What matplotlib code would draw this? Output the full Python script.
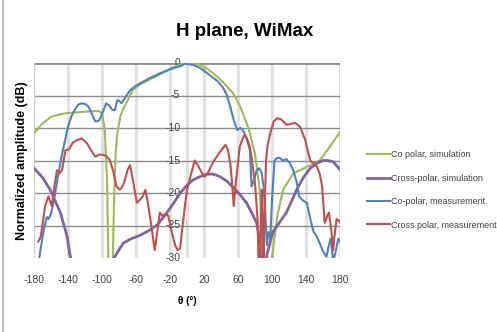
import matplotlib
matplotlib.use("Agg")
import matplotlib.pyplot as plt
from matplotlib.lines import Line2D

plt.rcParams["font.family"] = ["Liberation Sans Narrow", "Liberation Sans", "DejaVu Sans"]
plt.rcParams["axes.unicode_minus"] = False

# Co polar, simulation
co_sim_theta = [-180, -170, -160, -150, -140, -130, -120, -110, -104, -100, -97, -94, -92,
                -88, -86, -84, -82, -78, -74, -70, -64, -55, -45, -35, -20, -10, 0, 8,
                15, 25, 31, 42, 54, 62, 70, 74, 80, 86, 90, 96, 101, 106, 113, 125,
                141, 156, 168, 180]
co_sim = [-10.8, -9.3, -8.3, -7.9, -7.7, -7.6, -7.5, -7.4, -7.4, -7.7, -10, -18, -35,
          -35, -22, -14, -10.8, -8, -6.8, -5.8, -4.2, -3.3, -2.6, -2.0, -0.9, -0.3, 0, 0,
          -0.3, -1.0, -1.6, -2.9, -4.6, -6.5, -9.2, -10.8, -14, -20, -35, -35, -29, -23.7, -19.5, -17,
          -16, -15, -12.9, -10.6]

# Cross-polar, simulation
x_sim_theta = [-180, -170, -161, -149, -141, -138, -135, -100, -90, -85, -75, -65, -55, -45,
               -35, -25, -16, -8, 0, 7, 15, 23, 31, 39, 47, 54, 62, 70, 76, 82, 85, 87,
               93, 94, 101, 109, 117, 129, 137, 145, 152, 160, 166, 172, 180]
x_sim = [-16.2, -17.6, -19.5, -23, -26.7, -29.3, -31, -31, -31, -29.8, -27.7, -27, -26.5,
         -25.8, -24.9, -23.3, -21.6, -20, -18.8, -18, -17.5, -17.1, -17.1, -17.5, -18.2, -19.1, -20.2,
         -21.5, -23, -24.6, -27, -31, -31, -29.5, -26, -24.5, -23, -19.5, -17.6, -16.2, -15.5,
         -15, -15, -15.2, -16.4]

# Co-polar, measurement
co_meas_theta = [-180, -173, -169, -165, -163, -160, -158, -155, -152, -146, -140, -136,
                 -132, -128, -124, -120, -116, -112, -108, -104, -102, -98, -95, -91,
                 -88, -85, -82, -79, -77, -72, -67, -60, -52, -42, -32, -24, -16, -8,
                 -2, 7, 13, 19, 25, 31, 36, 42, 47, 51, 55, 59, 63, 66, 70, 74, 76,
                 79, 82, 85, 88, 90, 92, 94, 96, 98, 100, 103, 106, 109, 113, 117,
                 121, 125, 129, 132, 135, 138, 141, 145, 149, 152, 156, 160, 164,
                 167, 169, 172, 175, 178, 180]
co_meas = [-35, -29.3, -26, -23.7, -24, -23.2, -22, -20, -17.5, -13.4, -9.8, -8.2,
           -7.2, -6.4, -6.2, -6.3, -6.7, -7.8, -9, -8.9, -8.5, -7.2, -6.2, -6.6,
           -7.2, -7.3, -5.7, -5.9, -6.2, -5.2, -4.2, -3.5, -2.9, -2.2, -1.6, -1.2, -0.8, -0.5,
           -0.1, -0.3, -0.6, -1.1, -1.7, -2.3, -2.8, -3.7, -5, -6.8, -8.8, -10.3, -10.0, -10.4,
           -11.5, -13.4, -19, -18, -16.5, -16.2, -17, -19, -22.6, -28, -26, -27, -21, -15,
           -14.6, -14.6, -15, -14.8, -15.4, -16.5, -18.3, -20.5, -21, -21.3, -21.5, -24, -26,
           -26.5, -27.7, -29, -29.8, -28, -27, -30.5, -29, -27, -27.5]

# Cross polar, measurement
x_meas_theta = [-175, -172, -169, -167, -163, -159, -156, -153, -150, -147, -143, -139,
                -134, -128, -124, -118, -113, -108, -103, -99, -95, -91, -87, -83, -79,
                -76, -73, -70, -67, -63, -59, -55, -52, -49, -46, -42, -38, -35, -32,
                -29, -25, -22, -18, -14, -11, -8, -6, -2, 0, 3, 6, 9, 13, 17, 21, 25,
                29, 32, 35, 40, 45, 48, 51, 53, 55, 57, 59, 62, 65, 68, 71, 74, 77,
                80, 83, 85, 87, 88, 89, 90, 91, 93, 95, 98, 102, 106, 111, 117, 122,
                127, 133, 136, 139, 142, 145, 149, 153, 156, 159, 162, 165, 167, 170,
                172, 174, 176, 178, 180]
x_meas = [-27.5, -26.7, -24, -22, -20.5, -22, -19, -16.5, -17, -16.5, -13.4, -13.3,
          -12.2, -11.8, -11.6, -12.3, -13.4, -14.4, -14.1, -14.1, -14.3, -14.9, -16.5, -19, -19.5,
          -19, -18, -16.5, -15.7, -18.5, -21.5, -21, -20.5, -19.5, -21.5, -25, -28.8, -26, -23,
          -23.5, -23.2, -23.5, -26, -28, -28.8, -28.5, -26, -21.5, -19.5, -18, -16.5, -15, -15.8, -16.8,
          -17.5, -16.8, -15.7, -15, -14.4, -13.5, -12.6, -13.3, -15.5, -18.5, -22, -19, -16.5,
          -12.9, -11.8, -11, -11.8, -12.9, -15.5, -18.5, -24, -35, -24, -19.5, -25, -35, -24, -15,
          -12.5, -10.8, -9, -8.5, -8.7, -9.5, -9.4, -9.2, -9.8, -10.8, -11.8, -13.5, -15, -15.5, -16,
          -17, -19, -24.6, -23.5, -23, -26, -28.8, -26, -24, -24.2, -24.5]

colors = ["#9BBB59", "#8064A2", "#4F81BD", "#C0504D"]
labels = ["Co polar, simulation", "Cross-polar, simulation",
          "Co-polar, measurement", "Cross polar, measurement"]

fig = plt.figure(figsize=(4.97, 3.32), dpi=100)
ax = fig.add_axes([34 / 497, 1 - 258 / 332, 306 / 497, 195 / 332])

# grid lines
for x in [-140, -100, -60, -20, 0, 20, 60, 100, 140, 180]:
    ax.axvline(x, color="#e2e2e2", lw=2.2, zorder=0)
for y in [-5, -10, -15, -20, -25]:
    ax.axhline(y, color="#8c8c8c", lw=1.0, zorder=1)
ax.axhline(0, color="#8c8c8c", lw=2.0, zorder=1)
ax.axvline(-180, color="#d0d0d0", lw=1.0, zorder=1)

series = [(co_sim_theta, co_sim), (x_sim_theta, x_sim),
          (co_meas_theta, co_meas), (x_meas_theta, x_meas)]
lws = [1.5, 2.0, 1.5, 1.5]
for (t, v), c, lw in zip(series, colors, lws):
    ax.plot(t, v, color=c, lw=lw, zorder=3)

ax.set_xlim(-180, 180)
ax.set_ylim(-30, 0)
for s in ax.spines.values():
    s.set_visible(False)
ax.set_xticks(list(range(-180, 181, 40)))
ax.tick_params(axis="x", length=0, pad=12, labelsize=7.5, colors="#404040")
ax.set_yticks([])

# value labels sit next to the 0 deg position
for y in range(0, -31, -5):
    ax.text(-8, y, str(y), ha="right", va="center", fontsize=7.5, color="#404040", zorder=2)

ax.set_xlabel("\u03b8 (\u00b0)", fontsize=7, fontweight="bold", labelpad=8)
fig.text(0.045, 0.515, "Normalized amplitude (dB)", rotation=90, ha="center", va="center",
         fontsize=9, fontweight="bold")
fig.text(0.493, 0.905, "H plane, WiMax", ha="center", va="center", fontsize=13.5,
         fontweight="bold", family=["Liberation Sans", "DejaVu Sans"])

handles = [Line2D([], [], color=c, lw=lw) for c, lw in zip(colors, lws)]
fig.legend(handles, labels, loc="upper left", bbox_to_anchor=(0.722, 0.572),
           frameon=False, fontsize=6.5, handlelength=2.5, handletextpad=0.2,
           labelspacing=1.6, labelcolor="#404040")

fig.add_artist(Line2D([0.006, 0.006], [0, 1], color="#b0b0b0", lw=1.2))

fig.savefig("out.png", dpi=100)
